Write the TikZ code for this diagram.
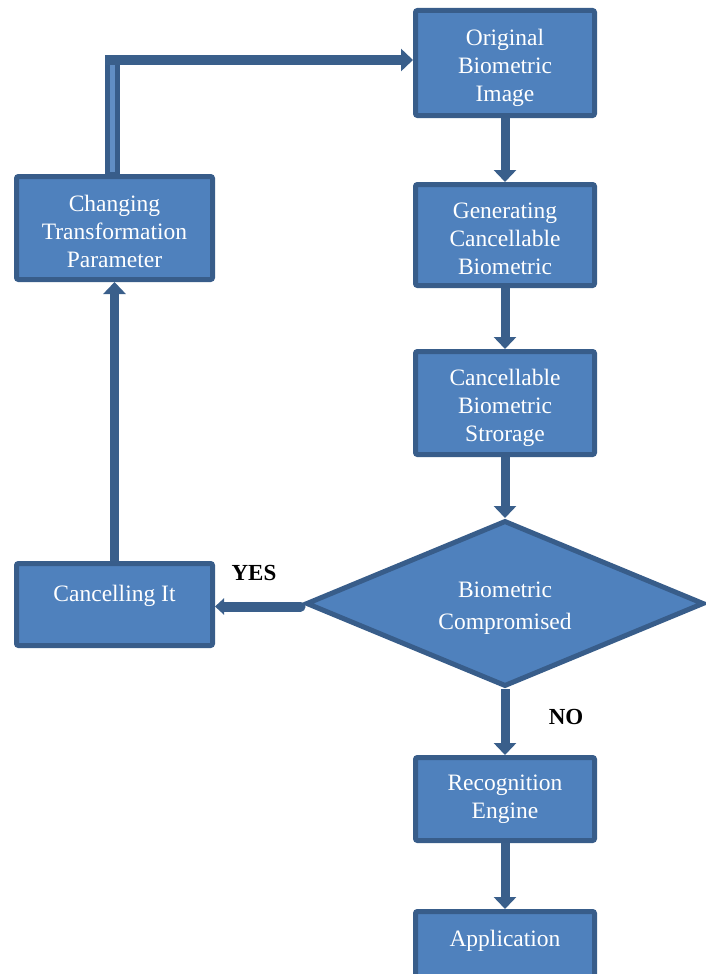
\documentclass[tikz,border=0pt]{standalone}
\usepackage{fontspec}
\setmainfont{Liberation Serif}
\usetikzlibrary{arrows.meta,shapes.geometric,calc}
\definecolor{bfill}{HTML}{4F81BD}
\definecolor{bline}{HTML}{385D8A}
\definecolor{aline}{HTML}{3A5F8B}
\begin{document}
\begin{tikzpicture}[x=1pt,y=-1pt,
 box/.style={draw=bline, fill=bfill, line width=5pt, rounded corners=2pt, inner sep=0pt},
 txt/.style={text=white, align=center, font=\fontsize{23.5}{28}\selectfont, inner sep=0pt},
 dtxt/.style={text=white, align=center, font=\fontsize{23.5}{32}\selectfont, inner sep=0pt},
 dia/.style={diamond, aspect=2.5, draw=bline, fill=bfill, line width=5pt, inner sep=0pt},
 arr/.style={draw=aline, line width=9pt, -{Triangle[width=22pt,length=12pt]}},
 smallarr/.style={draw=aline, line width=10pt, line cap=round, -{Triangle[width=16pt,length=9pt]}},
 lbl/.style={font=\fontsize{23}{28}\selectfont\bfseries, text=black, inner sep=0pt}]
\useasboundingbox (0,0) rectangle (705,974);

% right column
\node[box, minimum width=179pt, minimum height=105pt,
      label={[txt, yshift=-5pt]center:Original\\Biometric\\Image}] (orig) at (505,63) {};
\node[box, minimum width=179pt, minimum height=101pt,
      label={[txt, yshift=-4pt]center:Generating\\Cancellable\\Biometric}] (gen) at (505,235) {};
\node[box, minimum width=179pt, minimum height=103pt,
      label={[txt, yshift=-5pt]center:Cancellable\\Biometric\\Strorage}] (cstore) at (505,403) {};
\node[dia, minimum width=398pt, minimum height=166pt,
      label={[dtxt, yshift=-5pt]center:Biometric\\Compromised}] (dec) at (505,603.5) {};
\node[box, minimum width=179pt, minimum height=83pt,
      label={[txt]center:Recognition\\Engine}] (recog) at (505,799) {};
\node[box, minimum width=179pt, minimum height=90pt,
      label={[txt, yshift=16pt]center:Application}] (app) at (505,956.5) {};

% left column
\node[box, minimum width=196pt, minimum height=103pt,
      label={[txt, yshift=-3pt]center:Changing\\Transformation\\Parameter}] (change) at (114.5,228) {};
\node[box, minimum width=196pt, minimum height=82pt,
      label={[txt, yshift=9pt]center:Cancelling It}] (cancel) at (114.5,604.5) {};

% labels
\node[lbl] (yes) at (254,573) {YES};
\node[lbl] (no) at (566,717) {NO};

% connectors
\draw[arr] (orig) -- (gen);
\draw[arr] (gen) -- (cstore);
\draw[arr] (cstore) -- (dec);
\draw[arr] (dec) -- (recog);
\draw[arr] (recog) -- (app);
\draw[smallarr] ($(dec.west)+(-3,3)$) -- ($(dec.west -| cancel.east)+(0,3)$);
\draw[arr] (cancel) -- (change);

\coordinate (bend) at ($(change.north |- orig.west)+(-2,-3)$);
\coordinate (vbot) at ($(change.north)+(-2,0)$);
\draw[draw=bline, line width=15pt] (vbot) -- ($(bend)+(0,-5)$);
\draw[draw=bfill!90!white, line width=5pt] ($(vbot)+(0,-2)$) -- ($(bend)+(0,5)$);
\draw[arr, line width=10pt] ($(bend)+(-7.5,0)$) -- (bend -| orig.west);
\end{tikzpicture}
\end{document}
